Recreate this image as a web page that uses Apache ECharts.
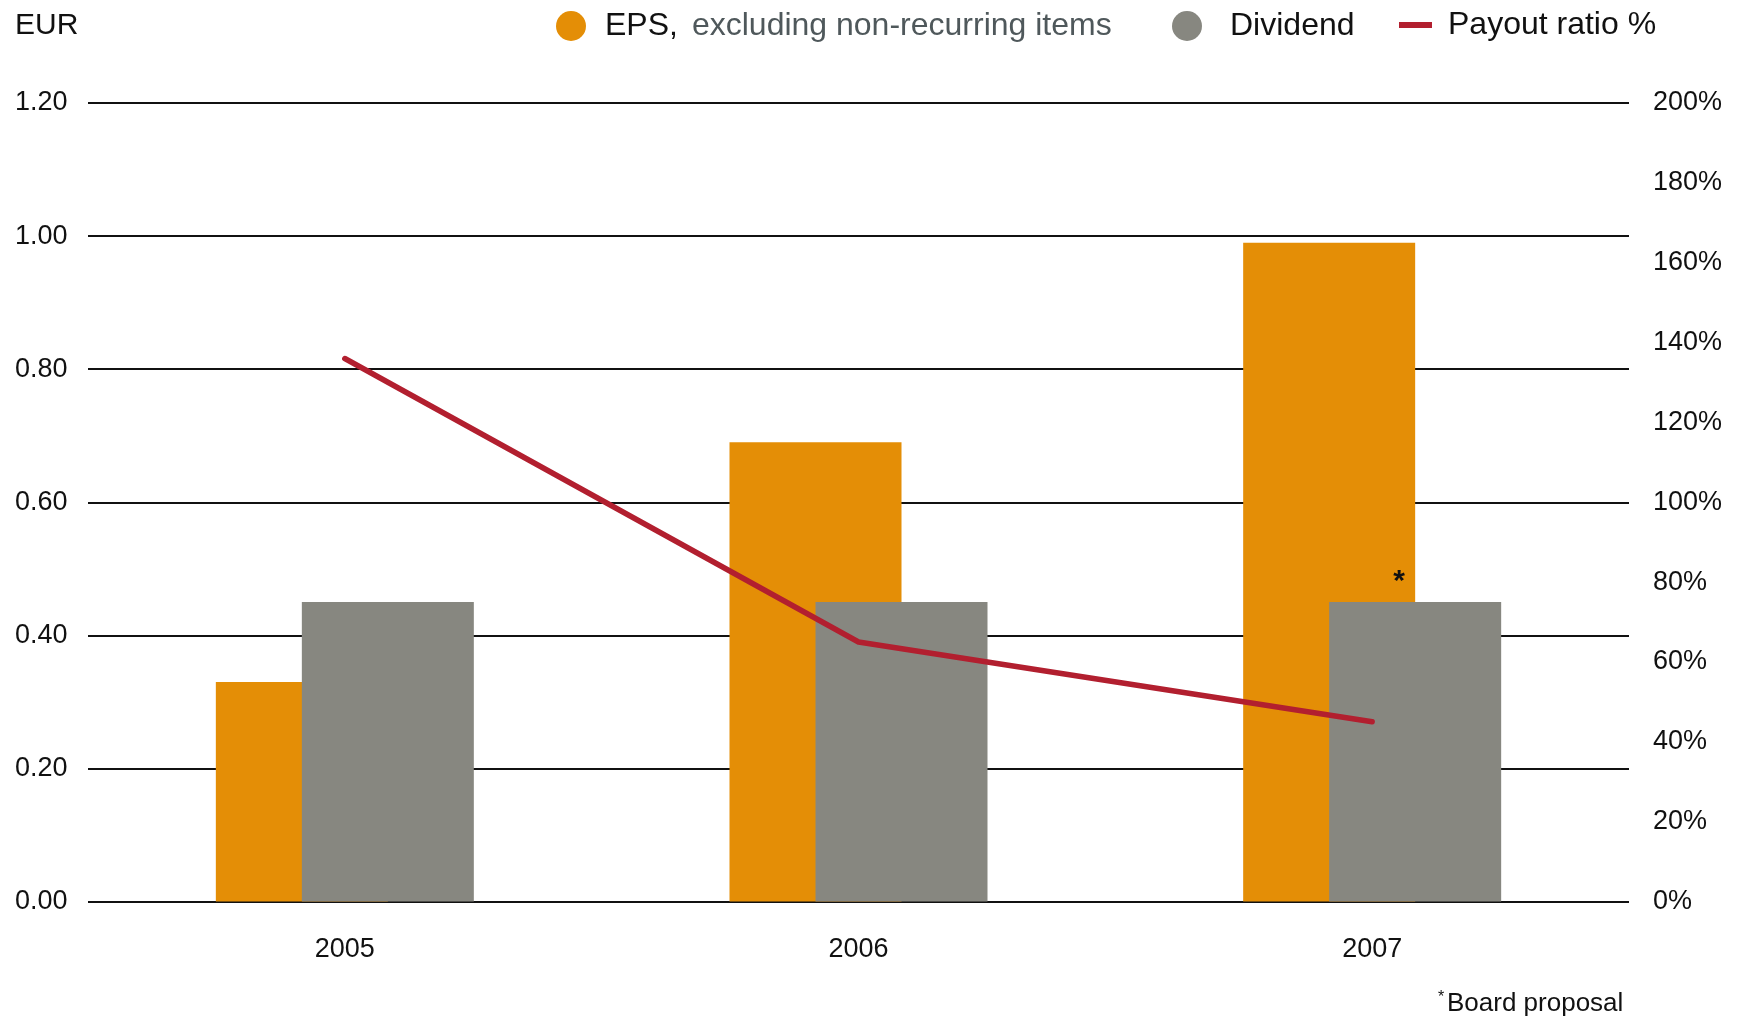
<!DOCTYPE html>
<html>
<head>
<meta charset="utf-8">
<title>EPS, dividend and payout ratio 2005–2007</title>
<script src="https://cdn.jsdelivr.net/npm/echarts@6/dist/echarts.min.js"></script>
<style>
  html, body { margin: 0; padding: 0; background: #ffffff; }
  #chart { width: 1742px; height: 1019px; }
</style>
</head>
<body>
<div id="chart"></div>
<script>
// Reporting years
const years = ['2005', '2006', '2007'];

// Earnings per share, excluding non-recurring items (EUR)
const epsValues = [0.33, 0.69, 0.99];

// Dividend per share (EUR); 2007 is the Board proposal
const dividendValues = [0.45, 0.45, 0.45];

// Payout ratio (%)
const payoutValues = [136, 65, 45];

// Axis ticks
const eurTicks = [0, 0.2, 0.4, 0.6, 0.8, 1.0, 1.2];
const pctTicks = [0, 20, 40, 60, 80, 100, 120, 140, 160, 180, 200];

const FONT = '"Liberation Sans", Arial, Helvetica, sans-serif';
const ORANGE = '#e48e06';
const GREY = '#878780';
const RED = '#b21f2f';

const epsName = 'EPS';
const epsNote = 'excluding non-recurring items';
const divName = 'Dividend';
const payoutName = 'Payout ratio %';

const chart = echarts.init(document.getElementById('chart'), null, { renderer: 'canvas' });

const LEGEND_SIZE = 32;
const AXIS_SIZE = 27;

chart.setOption({
  animation: false,
  backgroundColor: '#ffffff',
  textStyle: { fontFamily: FONT },
  grid: { left: 88, right: 113, top: 103, bottom: 117.5, containLabel: false },
  legend: [
    {
      data: [{ name: epsName, icon: 'circle' }],
      left: 551, top: 5,
      itemWidth: 30, itemHeight: 30,
      selectedMode: false,
      formatter: () => '{a|' + epsName + ',}{b|' + epsNote + '}',
      textStyle: {
        fontFamily: FONT, fontSize: LEGEND_SIZE, padding: [0, 0, 0, 14],
        rich: {
          a: { fontFamily: FONT, fontSize: LEGEND_SIZE, color: '#111111' },
          b: { fontFamily: FONT, fontSize: LEGEND_SIZE, color: '#4f585b', padding: [0, 0, 0, 14] }
        }
      }
    },
    {
      data: [{ name: divName, icon: 'circle' }],
      left: 1167, top: 5,
      itemWidth: 30, itemHeight: 30,
      selectedMode: false,
      textStyle: { fontFamily: FONT, fontSize: LEGEND_SIZE, color: '#111111', padding: [0, 0, 0, 23] }
    },
    {
      data: [{ name: payoutName, icon: 'rect' }],
      left: 1394, top: 4,
      itemWidth: 33, itemHeight: 6,
      selectedMode: false,
      textStyle: { fontFamily: FONT, fontSize: LEGEND_SIZE, color: '#111111', padding: [0, 0, 0, 11] }
    }
  ],
  xAxis: {
    type: 'category',
    data: years,
    boundaryGap: true,
    axisLine: { show: false },
    axisTick: { show: false },
    axisLabel: { fontFamily: FONT, fontSize: AXIS_SIZE, color: '#111111', margin: 35 }
  },
  yAxis: [
    {
      type: 'value',
      min: eurTicks[0],
      max: eurTicks[eurTicks.length - 1],
      interval: eurTicks[1] - eurTicks[0],
      axisLine: { show: false },
      axisTick: { show: false },
      splitLine: { show: true, lineStyle: { color: '#111111', width: 2 } },
      axisLabel: {
        fontFamily: FONT, fontSize: AXIS_SIZE, color: '#111111',
        align: 'left', margin: 73,
        formatter: v => v.toFixed(2)
      }
    },
    {
      type: 'value',
      position: 'right',
      min: pctTicks[0],
      max: pctTicks[pctTicks.length - 1],
      interval: pctTicks[1] - pctTicks[0],
      axisLine: { show: false },
      axisTick: { show: false },
      splitLine: { show: false },
      axisLabel: {
        fontFamily: FONT, fontSize: AXIS_SIZE, color: '#111111',
        align: 'left', margin: 24,
        formatter: '{value}%'
      }
    }
  ],
  series: [
    {
      name: epsName,
      type: 'bar',
      yAxisIndex: 0,
      data: epsValues,
      barWidth: 172,
      barGap: '-50%',
      itemStyle: { color: ORANGE }
    },
    {
      name: divName,
      type: 'bar',
      yAxisIndex: 0,
      barWidth: 172,
      barGap: '-50%',
      itemStyle: { color: GREY },
      data: dividendValues.map((v, i) => {
        if (i !== dividendValues.length - 1) return v;
        // 2007 dividend is a Board proposal
        return {
          value: v,
          label: {
            show: true, position: 'top', formatter: '*',
            offset: [-16, 0],
            fontFamily: FONT, fontSize: 30, fontWeight: 'bold', color: '#111111'
          }
        };
      })
    },
    {
      name: payoutName,
      type: 'line',
      yAxisIndex: 1,
      data: payoutValues,
      showSymbol: false,
      symbol: 'none',
      lineStyle: { color: RED, width: 5.5, cap: 'round', join: 'round' },
      itemStyle: { color: RED },
      z: 3
    }
  ],
  graphic: [
    {
      type: 'text', left: 15, top: 11,
      style: { text: 'EUR', font: '30px ' + FONT, fill: '#111111' }
    },
    {
      type: 'text', left: 1438, top: 990,
      style: { text: '*', font: '16px ' + FONT, fill: '#111111' }
    },
    {
      type: 'text', left: 1447, top: 991,
      style: { text: 'Board proposal', font: '26px ' + FONT, fill: '#111111' }
    }
  ]
});
</script>
</body>
</html>
